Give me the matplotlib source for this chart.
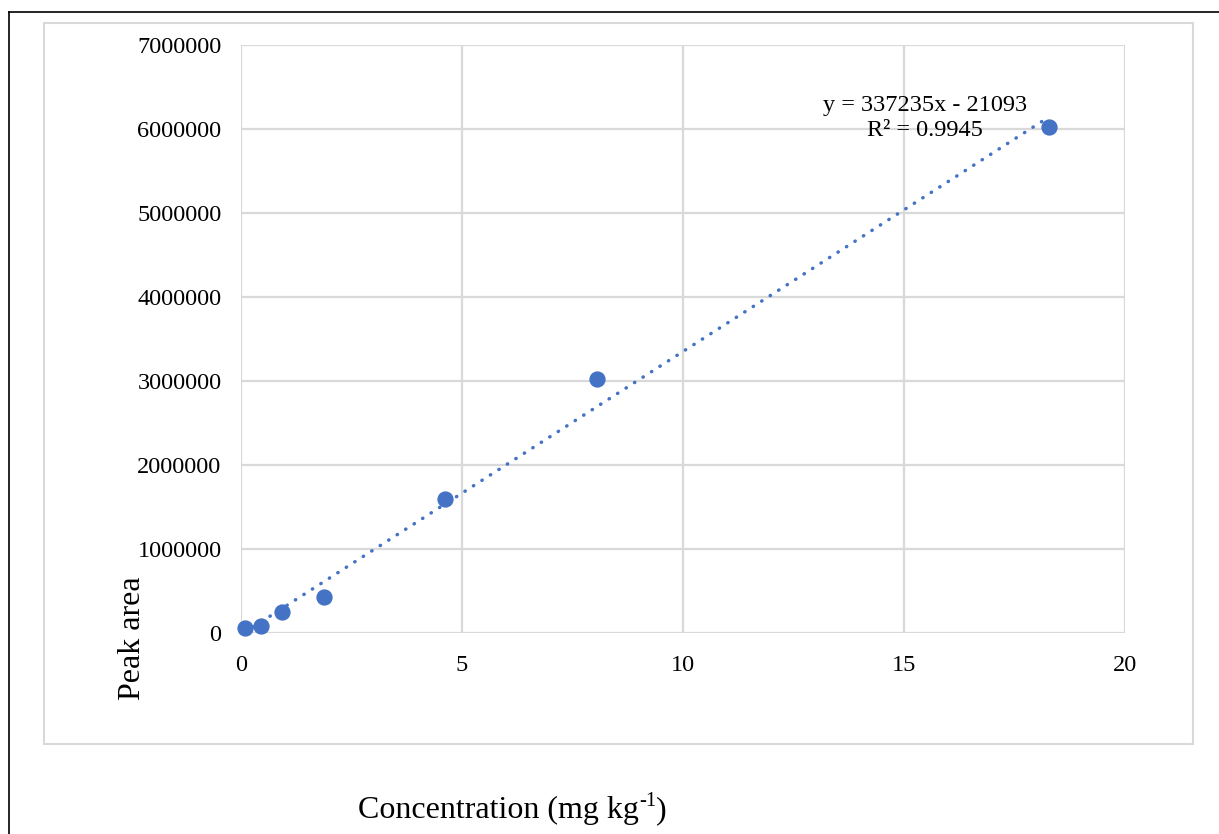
import matplotlib
matplotlib.use("Agg")
import matplotlib.pyplot as plt
from matplotlib.patches import Rectangle
from matplotlib.lines import Line2D
import numpy as np

plt.rcParams['font.family'] = ['Liberation Serif', 'DejaVu Serif']

# calibration points
conc = [0.08, 0.46, 0.92, 1.87, 4.62, 8.06, 18.28]
peak_area = [65000, 78000, 245000, 425000, 1595000, 3020000, 6025000]

# trendline as printed on the chart
slope = 337235
intercept = -21093
eq_text = "y = 337235x - 21093\nR² = 0.9945"

x_ticks = [0, 5, 10, 15, 20]
y_ticks = [0, 1000000, 2000000, 3000000, 4000000, 5000000, 6000000, 7000000]

blue = "#4472C4"
grid_gray = "#d9d9d9"

W, H = 1219, 834
fig = plt.figure(figsize=(W / 100, H / 100), dpi=100)

# outer black frame (only left/top visible) and grey chart-area box
fig.add_artist(Line2D([9 / W, 9 / W], [0, 1 - 12 / H], color="black", lw=1.2))
fig.add_artist(Line2D([9 / W, 1], [1 - 12 / H, 1 - 12 / H], color="black", lw=1.2))
fig.add_artist(Rectangle((44 / W, 1 - 744 / H), (1193 - 44) / W, (744 - 23) / H,
                         transform=fig.transFigure, fill=False,
                         edgecolor=grid_gray, lw=1.5))

ax = fig.add_axes([241 / W, 1 - 633 / H, (1125 - 241) / W, (633 - 45) / H])
ax.set_xlim(0, 20)
ax.set_ylim(0, 7000000)
ax.set_xticks(x_ticks)
ax.set_yticks(y_ticks)
ax.set_xticklabels([str(t) for t in x_ticks])
ax.set_yticklabels([str(t) for t in y_ticks])
ax.tick_params(length=0, labelsize=17.5, colors="black")
ax.tick_params(axis="y", pad=14)
ax.tick_params(axis="x", pad=16)
ax.grid(True, color=grid_gray, lw=1.6)
ax.set_axisbelow(True)
for s in ax.spines.values():
    s.set_visible(False)

# trendline over the data range
xt = np.array([min(conc), max(conc)])
ax.plot(xt, slope * xt + intercept, color=blue, lw=2.5,
        linestyle=(0, (0.1, 2.8)), dash_capstyle="round", zorder=2)

ax.scatter(conc, peak_area, s=115, color=blue, zorder=3, clip_on=False)

ax.text(925 / W, 1 - 118 / H, eq_text, transform=fig.transFigure,
        ha="center", va="center", fontsize=17.5, linespacing=1.25)

fig.text(133 / W, 1 - 638 / H, "Peak area", rotation=90,
         ha="center", va="center", fontsize=23)

# x label built in pieces so the superscript keeps a plain hyphen
renderer = fig.canvas.get_renderer()
x0 = 358
base_y = 1 - 818 / H
t1 = fig.text(x0 / W, base_y, "Concentration (mg kg", ha="left",
              va="baseline", fontsize=23)
x1 = t1.get_window_extent(renderer).x1
t2 = fig.text(x1 / W, base_y + 12 / H, "-1", ha="left", va="baseline",
              fontsize=15)
x2 = t2.get_window_extent(renderer).x1
fig.text(x2 / W, base_y, ")", ha="left", va="baseline", fontsize=23)

fig.savefig("out.png", dpi=100)
